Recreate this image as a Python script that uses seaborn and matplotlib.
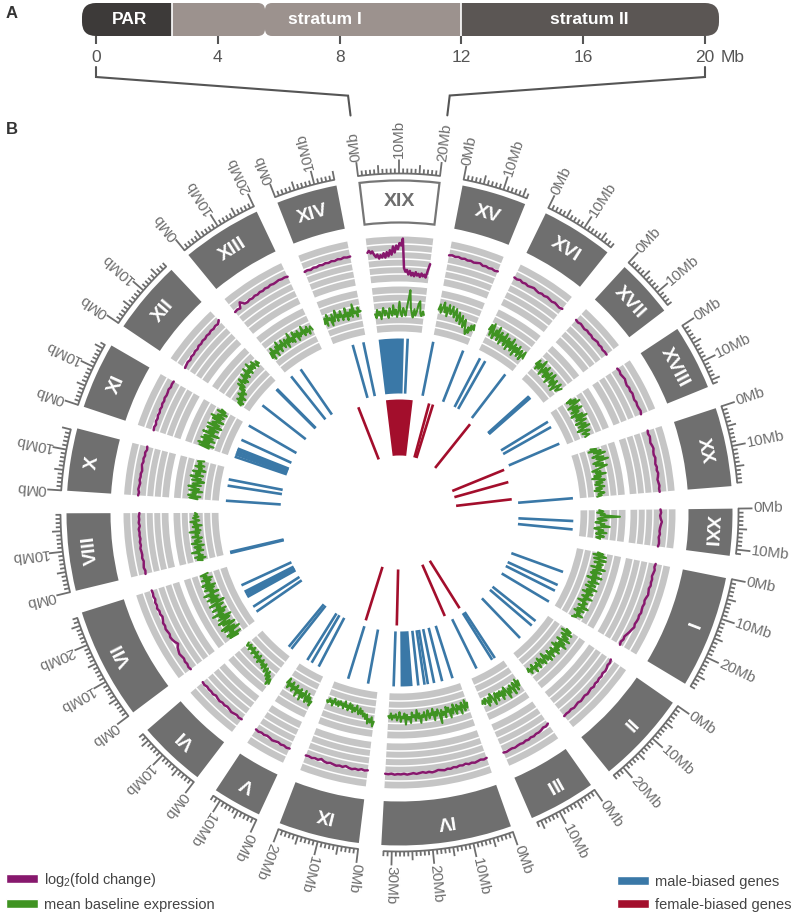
import numpy as np
import pandas as pd
import matplotlib
matplotlib.use("Agg")
import matplotlib.pyplot as plt
import seaborn as sns
from matplotlib.patches import FancyBboxPatch, Rectangle, Patch

# ---------------- data ----------------
chrom_names = ["XIX", "XV", "XVI", "XVII", "XVIII", "XX", "XXI", "I", "II", "III", "IV",
               "IX", "V", "VI", "VII", "VIII", "X", "XI", "XII", "XIII", "XIV"]
chrom_sizes = [20.24, 16.20, 18.12, 14.60, 16.28, 19.73, 11.72, 28.19, 23.30, 16.80, 32.63,
               20.25, 12.25, 17.08, 27.94, 19.37, 15.66, 16.69, 18.40, 20.08, 15.25]

# log2(fold change) along each chromosome (evenly spaced bins)
purple_values = {
    "XIX": [0.02, 0.08, -0.01, 0.05, -0.07, -0.15, -0.07, -0.21, -0.10, -0.18, -0.04, -0.19, -0.01, -0.15,
            0.05, -0.10, 0.17, -0.03, 0.20, 0.08, 0.28, 0.20, 0.43, -0.55, -0.67, -0.61, -0.76, -0.64,
            -0.79, -0.70, -0.81, -0.67, -0.78, -0.72, -0.82, -0.70, -0.79, -0.73, -0.82, -0.58, -0.36],
    "XV": [0.03, 0.05, 0.02, 0.04, 0.01, 0.03, 0.00, 0.02, -0.01, 0.01, 0.03, -0.02, 0.00, -0.03, -0.01, -0.04, -0.02],
    "XVI": [0.02, 0.00, 0.03, -0.01, 0.01, -0.02, 0.00, 0.02, -0.01, -0.03, 0.00, -0.02, 0.01, -0.01, -0.03, 0.00, -0.02, -0.04, -0.01],
    "XVII": [0.01, -0.01, 0.02, 0.00, -0.02, 0.01, -0.01, 0.00, -0.03, -0.01, 0.01, -0.02, 0.00, -0.03, -0.01, -0.02],
    "XVIII": [0.00, 0.02, -0.01, 0.01, 0.03, 0.00, -0.02, 0.01, -0.01, 0.02, 0.00, -0.02, 0.01, -0.01, 0.00, 0.02, -0.01],
    "XX": [0.01, -0.01, 0.02, 0.00, -0.02, 0.01, 0.03, 0.00, -0.01, 0.02, 0.00, -0.02, 0.01, -0.01, 0.02, 0.00, -0.03, -0.01, 0.01, -0.01, 0.00],
    "XXI": [0.00, 0.02, -0.01, 0.01, 0.05, 0.02, 0.00, -0.01, 0.01, -0.02, 0.00, 0.01, -0.01],
    "I": [0.01, -0.01, 0.02, 0.00, -0.02, 0.01, 0.00, 0.02, -0.01, 0.01, 0.03, 0.00, -0.02, 0.01, -0.01, 0.00,
          0.02, -0.01, 0.01, 0.00, -0.02, 0.01, -0.03, -0.06, -0.10, -0.14, -0.12, -0.16, -0.13],
    "II": [-0.12, -0.08, -0.10, -0.06, -0.04, -0.07, -0.03, -0.05, -0.02, -0.04, 0.00, -0.03, -0.01, 0.01, -0.02, 0.00,
           0.02, -0.01, 0.01, 0.03, 0.00, 0.02, 0.01, 0.03],
    "III": [-0.10, -0.06, -0.08, -0.04, -0.02, -0.03, 0.00, -0.02, 0.01, -0.01, 0.02, 0.00, 0.01, 0.03, 0.01, 0.02, 0.04, 0.02],
    "IV": [-0.02, 0.00, -0.03, -0.01, 0.01, -0.02, 0.00, -0.04, -0.01, -0.03, 0.00, -0.02, 0.01, -0.01, 0.02, 0.00, -0.02,
           0.01, 0.03, 0.00, 0.02, -0.01, 0.01, 0.03, 0.00, 0.02, 0.04, 0.01, 0.03, 0.02, 0.04, 0.01, 0.03, 0.02],
    "IX": [-0.04, -0.02, -0.05, -0.01, -0.03, 0.00, -0.02, -0.06, -0.01, -0.03, 0.00, -0.02, -0.04, -0.01, -0.03, -0.08,
           -0.02, -0.04, -0.01, -0.03, -0.02],
    "V": [-0.02, 0.00, -0.03, -0.01, -0.04, -0.02, 0.00, -0.03, -0.05, -0.02, -0.04, -0.01, -0.03],
    "VI": [-0.03, -0.01, -0.04, -0.02, 0.00, -0.03, -0.05, -0.02, -0.04, -0.01, -0.03, -0.06, -0.02, -0.04, -0.03, -0.05, -0.02, -0.04],
    "VII": [0.00, 0.02, -0.01, 0.01, -0.02, 0.00, 0.02, -0.01, -0.04, -0.12, -0.06, -0.02, 0.00, -0.03, -0.01, 0.01, -0.02,
            0.00, -0.04, -0.07, -0.03, -0.05, -0.01, -0.04, -0.02, -0.06, -0.03, -0.05, -0.04],
    "VIII": [0.01, -0.01, 0.02, 0.00, -0.02, 0.01, -0.01, 0.00, 0.02, -0.01, 0.01, -0.02, 0.00, -0.01, 0.01, -0.03, 0.00, -0.02, -0.01, -0.03],
    "X": [0.03, 0.01, 0.04, 0.02, 0.00, 0.03, 0.01, 0.02, -0.01, 0.01, 0.03, 0.00, 0.02, -0.01, 0.01, -0.03, -0.01],
    "XI": [-0.06, -0.04, -0.07, -0.03, -0.05, -0.02, -0.04, -0.01, -0.03, 0.00, -0.02, 0.01, -0.01, 0.00, 0.02, -0.01, 0.01, 0.00],
    "XII": [-0.08, -0.06, -0.04, -0.07, -0.03, -0.05, -0.02, -0.04, 0.00, -0.02, 0.01, -0.01, 0.02, 0.00, 0.03, 0.01, 0.04, 0.02, 0.10],
    "XIII": [-0.06, -0.04, -0.07, 0.10, -0.03, -0.05, -0.02, -0.04, -0.01, -0.03, 0.00, -0.02, 0.01, -0.01, 0.02, 0.00,
             0.01, 0.03, 0.01, 0.02, 0.00],
    "XIV": [-0.08, -0.06, -0.09, -0.05, -0.07, -0.04, -0.06, -0.03, -0.05, -0.02, -0.04, -0.01, -0.03, 0.00, -0.02, -0.01],
}

# mean baseline expression along each chromosome (evenly spaced bins)
green_values = {
    "XIX": [5.2, 4.6, 5.8, 5.0, 5.5, 4.4, 5.3, 6.0, 4.9, 5.6, 5.1, 4.5, 5.9, 5.2, 4.8, 6.3, 5.0, 5.7, 4.6, 5.4, 6.8,
            5.1, 4.7, 5.9, 5.3, 4.8, 6.1, 7.2, 8.5, 6.0, 5.2, 4.6, 5.8, 4.9, 5.5, 6.6, 7.0, 5.3, 4.9, 5.6, 5.1],
    "XV": [6.2, 7.0, 5.8, 6.6, 7.4, 6.0, 6.8, 5.5, 7.2, 6.4, 5.9, 7.1, 6.3, 5.6, 6.9, 6.0, 5.2, 6.5, 5.8, 4.9, 6.2,
           5.4, 4.6, 5.8, 5.0, 4.2, 3.8, 4.9, 4.1, 5.3, 4.6, 5.5, 4.8],
    "XVI": [5.8, 6.6, 5.1, 6.9, 5.5, 4.8, 6.2, 5.4, 6.8, 4.9, 5.7, 6.3, 4.6, 5.9, 5.2, 6.5, 4.7, 5.5, 6.1, 4.4, 5.8,
            5.0, 6.4, 4.6, 5.3, 5.9, 4.2, 5.6, 4.9, 6.0, 4.5, 5.2, 5.7, 4.3, 5.0, 5.8, 4.8],
    "XVII": [5.5, 6.3, 4.9, 6.0, 5.2, 6.8, 5.6, 4.7, 6.1, 5.3, 6.5, 4.8, 5.8, 5.1, 6.2, 4.5, 5.6, 6.4, 5.0, 5.7, 4.6,
             6.0, 5.2, 4.4, 5.5, 6.1, 4.9, 5.3, 5.8],
    "XVIII": [6.0, 5.2, 6.6, 5.5, 7.0, 5.8, 4.9, 6.3, 5.4, 6.8, 5.0, 6.1, 5.6, 4.7, 6.4, 5.3, 6.9, 5.1, 5.8, 6.5, 4.8,
              5.7, 6.2, 5.0, 6.6, 5.4, 4.6, 5.9, 6.3, 5.1, 5.6, 6.0, 5.3],
    "XX": [5.4, 6.2, 5.0, 6.8, 5.7, 7.3, 6.1, 5.3, 6.9, 5.8, 7.5, 6.0, 5.2, 6.6, 5.5, 7.1, 6.3, 5.6, 4.8, 6.0, 5.3,
           6.7, 5.0, 5.9, 4.6, 5.7, 6.4, 5.1, 6.0, 4.9, 5.6, 6.2, 5.0, 5.8, 4.7, 5.5, 6.1, 5.2, 5.7, 5.0],
    "XXI": [5.2, 5.8, 4.9, 6.0, 5.4, 8.2, 5.6, 5.0, 6.3, 5.3, 4.7, 6.0, 5.5, 6.8, 5.1, 4.6, 5.9, 5.2, 6.4, 4.9, 5.5,
            6.1, 5.0, 5.6],
    "I": [5.6, 6.4, 5.0, 6.9, 5.8, 5.2, 7.0, 6.1, 5.4, 6.7, 5.9, 6.5, 5.1, 7.2, 6.0, 5.5, 6.8, 5.3, 6.2, 5.7, 7.1,
          5.0, 6.3, 5.8, 6.9, 5.4, 6.0, 6.6, 5.2, 5.9, 7.0, 5.6, 6.4, 5.1, 6.7, 5.8, 6.2, 5.3, 6.9, 5.7, 6.1, 5.0,
          6.5, 5.9, 6.3, 5.4, 7.0, 6.0, 5.5, 6.6, 5.2, 6.2, 5.8, 6.8, 5.6, 6.0, 5.4],
    "II": [5.8, 6.6, 5.2, 7.0, 6.1, 5.5, 6.8, 5.9, 7.3, 6.2, 5.4, 6.9, 6.0, 7.4, 5.7, 6.5, 5.3, 6.8, 6.1, 7.1, 5.6,
           6.4, 5.9, 6.9, 5.5, 6.3, 7.0, 5.8, 6.6, 5.2, 6.1, 6.8, 5.7, 6.4, 5.3, 6.0, 6.7, 5.6, 6.2, 5.9, 6.8, 5.4,
           6.1, 5.8, 6.5, 5.5, 6.0],
    "III": [6.0, 6.8, 5.6, 7.2, 6.3, 5.8, 7.5, 6.5, 5.9, 7.0, 6.2, 7.6, 6.4, 5.7, 6.9, 6.1, 7.3, 5.9, 6.6, 6.0, 7.1,
            5.8, 6.5, 7.4, 6.2, 5.6, 6.8, 6.0, 7.2, 6.3, 5.9, 6.7, 6.1, 6.5],
    "IV": [5.5, 6.2, 5.0, 6.5, 5.8, 5.2, 6.8, 5.6, 6.1, 5.3, 6.6, 5.9, 5.1, 6.4, 5.7, 6.9, 5.4, 6.0, 5.2, 6.7, 5.8,
           6.3, 5.5, 7.4, 5.9, 5.3, 6.2, 5.6, 6.8, 5.1, 6.0, 5.7, 6.4, 5.2, 5.9, 6.6, 5.4, 6.1, 5.8, 6.9, 5.5, 6.2,
           5.0, 6.5, 5.7, 6.0, 5.3, 6.8, 5.9, 6.3, 5.6, 7.0, 5.4, 6.1, 5.8, 6.6, 5.2, 5.9, 6.4, 5.5, 6.0, 5.7, 6.3,
           5.4, 6.1, 5.8],
    "IX": [6.8, 7.5, 6.2, 7.0, 6.5, 7.2, 5.9, 6.6, 5.8, 6.3, 5.5, 6.0, 5.2, 6.1, 5.6, 4.9, 5.8, 5.3, 6.0, 5.0, 5.6,
           4.8, 5.9, 5.2, 5.5, 4.7, 5.8, 5.1, 5.4, 4.9, 5.7, 5.0, 5.6, 5.3, 4.8, 5.9, 5.2, 5.5, 5.0, 5.7, 5.4],
    "V": [6.5, 7.2, 6.0, 6.8, 5.6, 7.0, 6.2, 5.4, 6.6, 5.9, 7.1, 5.5, 6.3, 5.8, 6.9, 5.3, 6.1, 5.7, 6.5, 5.2, 6.0,
          5.6, 6.4, 5.0, 5.8],
    "VI": [7.5, 6.8, 7.8, 6.5, 7.2, 6.0, 6.9, 6.3, 5.8, 6.6, 6.0, 5.5, 6.4, 5.7, 6.1, 5.3, 5.9, 5.6, 6.2, 5.1, 5.8,
           5.4, 6.0, 5.0, 5.6, 5.3, 5.9, 4.9, 5.5, 5.2, 5.8, 5.0, 5.4, 5.6, 5.1],
    "VII": [5.5, 6.8, 4.9, 7.0, 5.8, 6.3, 4.6, 6.9, 5.2, 7.2, 5.9, 4.8, 6.6, 5.4, 7.1, 6.0, 5.1, 6.8, 4.7, 6.4, 5.7,
            7.3, 5.3, 6.2, 4.9, 6.9, 5.6, 6.1, 5.0, 7.0, 5.8, 4.6, 6.5, 5.4, 6.9, 5.1, 6.3, 5.7, 7.1, 4.8, 6.0, 5.5,
            6.7, 5.2, 6.4, 4.9, 6.8, 5.6, 6.1, 5.3, 6.6, 5.0, 6.2, 5.7, 6.5, 5.4],
    "VIII": [5.6, 6.3, 5.1, 6.6, 5.4, 6.0, 5.8, 6.9, 5.2, 6.1, 5.5, 6.4, 5.0, 5.9, 6.7, 5.3, 6.2, 5.7, 5.1, 6.5, 5.6,
             6.0, 5.4, 6.8, 5.2, 5.9, 5.5, 6.3, 5.0, 6.1, 5.7, 6.6, 5.3, 5.8, 6.2, 5.4, 6.0, 5.6, 5.9],
    "X": [5.6, 6.8, 5.2, 7.0, 5.9, 6.4, 5.0, 6.9, 5.5, 6.2, 7.1, 5.3, 6.5, 5.8, 4.9, 6.7, 5.4, 6.1, 7.0, 5.2, 6.3,
          5.7, 6.8, 5.0, 6.0, 5.6, 6.6, 5.3, 6.2, 5.8, 6.4, 5.5],
    "XI": [5.4, 6.9, 4.8, 7.2, 5.6, 6.5, 4.9, 7.0, 5.3, 6.7, 5.8, 4.6, 7.1, 5.5, 6.3, 5.0, 6.8, 5.7, 4.7, 6.9, 5.2,
           6.4, 5.9, 4.8, 6.6, 5.4, 7.0, 5.1, 6.2, 5.6, 4.9, 6.5, 5.3, 6.0],
    "XII": [4.0, 4.6, 3.8, 5.0, 4.2, 4.8, 3.9, 5.3, 4.5, 5.0, 4.3, 5.6, 4.8, 6.2, 5.1, 5.8, 6.5, 5.4, 6.0, 5.2, 6.7,
            5.7, 6.3, 5.5, 7.0, 5.9, 6.4, 5.6, 7.2, 6.0, 6.6, 5.8, 6.9, 6.2, 5.7, 6.5, 6.0],
    "XIII": [5.2, 6.0, 4.8, 6.5, 5.5, 5.9, 4.9, 6.3, 5.6, 6.8, 5.1, 6.1, 5.7, 6.6, 5.3, 5.9, 6.4, 5.0, 6.2, 5.6, 6.9,
             5.4, 6.0, 5.2, 6.7, 5.8, 6.3, 5.1, 6.5, 5.5, 6.0, 5.7, 6.8, 5.3, 6.1, 5.6, 6.4, 5.2, 5.9, 6.2, 5.6],
    "XIV": [5.6, 6.4, 5.2, 6.8, 5.9, 6.2, 5.0, 6.6, 5.5, 6.1, 7.0, 5.4, 6.3, 5.8, 6.7, 5.3, 6.0, 5.7, 6.9, 5.1, 6.2,
            5.6, 6.5, 5.4, 7.2, 5.8, 6.1, 5.3, 6.6, 5.9, 6.0],
}

# sex-biased gene positions (Mb)
blue_genes = {
    "XIV": [8.5, 13.7], "XIX": [14.0], "XV": [0.4, 15.2], "XVI": [2.2, 5.0, 16.4],
    "XVII": [8.0, 8.5, 9.0], "XVIII": [2.9, 5.8, 14.6], "XX": [19.5], "XXI": [5.0, 9.0],
    "I": [12.4, 19.1, 22.1, 28.0], "II": [5.4, 8.2, 16.3], "III": [2.7, 4.2, 12.7],
    "IV": [2.6, 7.7, 11.6, 14.6, 16.2, 19.2, 30.9], "IX": [4.9, 14.6], "V": [3.9, 7.7, 10.1],
    "VI": [1.5, 3.1], "VII": [3.1, 5.9, 11.3, 12.2, 13.2, 14.1, 17.5], "VIII": [0.2, 0.7],
    "X": [0.2, 7.4, 10.4], "XI": [0.3, 1.5, 2.5, 3.5, 4.4, 8.9, 16.5], "XII": [5.8, 15.8, 16.2],
    "XIII": [1.2, 6.8],
}
blue_blocks = [("XIX", 0.2, 12.2), ("IV", 21.9, 27.6)]
red_genes = {
    "XIV": [0.2], "XV": [6.2, 9.1], "XVI": [18.1], "XVIII": [16.2], "XX": [3.8, 16.6],
    "III": [4.3, 16.5], "IV": [30.1], "IX": [14.9],
}
red_blocks = [("XIX", 0.2, 19.8)]

# panel A: chromosome XIX strata
strata_names = ["PAR", "stratum I", "stratum II"]
strata_start = [0.0, 2.5, 12.0]
strata_end = [2.5, 12.0, 20.0]
strata_label_pos = [1.1, 7.5, 16.2]
centromere_mb = 5.55
axis_ticks_mb = [0, 4, 8, 12, 16, 20]

# ---------------- style ----------------
sns.set_theme(style="white")
plt.rcParams['font.family'] = ['Liberation Sans', 'DejaVu Sans']
plt.rcParams['mathtext.default'] = 'regular'

P_COLOR = "#87186d"
G_COLOR = "#3f9322"
B_COLOR = "#3a78a7"
R_COLOR = "#a30e2c"
TRACK = "#c5c5c5"
BAND = "#6f6f6f"
TICKC = "#6e6e6e"
STRATA_COLORS = ["#3d3a39", "#9c928e", "#5b5654"]

W, H = 800, 916
fig = plt.figure(figsize=(W / 100, H / 100), dpi=100)
fig.patch.set_facecolor("white")

CX, CY, RMAX = 399.5, 512.5, 400.0
ax = fig.add_axes([(CX - RMAX) / W, (H - CY - RMAX) / H, 2 * RMAX / W, 2 * RMAX / H], projection='polar')
ax.set_theta_zero_location('N')
ax.set_theta_direction(-1)
ax.set_xlim(0, 2 * np.pi)
ax.set_ylim(0, RMAX)
ax.axis('off')

R_RED = (57, 113)
R_BLUE = (119, 174)
R_GREEN = (181, 226)
R_PURPLE = (231, 276)
R_BAND = (289, 333)
R_TICK = 339
P_MIN, P_MAX = -1.0, 0.5
G_MIN, G_MAX = 2.5, 9.0

K = 0.695  # degrees per Mb
GAP = (360 - sum(chrom_sizes) * K) / len(chrom_sizes)
starts = {}
a = -chrom_sizes[0] * K / 2
for n, s in zip(chrom_names, chrom_sizes):
    starts[n] = a
    a += s * K + GAP


def ang(n, pos):
    return starts[n] + np.asarray(pos, dtype=float) * K


def th(n, pos):
    return np.deg2rad(ang(n, pos))


for n, s in zip(chrom_names, chrom_sizes):
    t0, t1 = float(th(n, 0)), float(th(n, s))
    c, w = (t0 + t1) / 2, t1 - t0
    # ideogram band
    if n == "XIX":
        ax.bar(c, R_BAND[1] - R_BAND[0] - 2, width=w - 0.004, bottom=R_BAND[0] + 1, color='white',
               edgecolor='#767676', linewidth=1.6)
        lc = '#6e6e6e'
    else:
        ax.bar(c, R_BAND[1] - R_BAND[0], width=w, bottom=R_BAND[0], color=BAND, linewidth=0)
        lc = 'white'
    ax.text(c, (R_BAND[0] + R_BAND[1]) / 2, n, rotation=-np.rad2deg(c), rotation_mode='anchor',
            ha='center', va='center', fontsize=14, fontweight='bold', color=lc)
    # track backgrounds
    tt = np.linspace(t0, t1, 80)
    for (r0, r1) in (R_PURPLE, R_GREEN):
        ax.bar(c, r1 - r0, width=w, bottom=r0, color=TRACK, linewidth=0)
        for i in range(1, 6):
            ax.plot(tt, np.full_like(tt, r0 + (r1 - r0) * i / 6), color='white', lw=1.1)
    # scale ticks
    mb = np.arange(0, int(np.floor(s)) + 1)
    lens = np.where(mb % 10 == 0, 14, np.where(mb % 5 == 0, 9, 5))
    ax.vlines(th(n, mb), R_TICK, R_TICK + lens, colors=TICKC, lw=1.3)
    tb = np.linspace(t0, float(th(n, mb[-1])), 60)
    ax.plot(tb, np.full_like(tb, R_TICK), color=TICKC, lw=1.3)
    for m in mb[mb % 10 == 0]:
        d = float(ang(n, m))
        ax.text(np.deg2rad(d), R_TICK + 15, f"{m}Mb", rotation=90 - d, rotation_mode='anchor',
                ha='left', va='center', fontsize=11, color=TICKC)

# traces (seaborn)
rows = []
for n, s in zip(chrom_names, chrom_sizes):
    pv = purple_values[n]
    for p, v in zip(np.linspace(0, s, len(pv)), pv):
        rows.append((n, float(th(n, p)), R_PURPLE[0] + (R_PURPLE[1] - R_PURPLE[0]) * (v - P_MIN) / (P_MAX - P_MIN), "fc"))
    gv = green_values[n]
    for p, v in zip(np.linspace(0, s, len(gv)), gv):
        rows.append((n, float(th(n, p)), R_GREEN[0] + (R_GREEN[1] - R_GREEN[0]) * (v - G_MIN) / (G_MAX - G_MIN), "expr"))
df = pd.DataFrame(rows, columns=["chrom", "theta", "r", "track"])
sns.lineplot(data=df[df.track == "fc"], x="theta", y="r", units="chrom", estimator=None,
             color=P_COLOR, lw=1.8, ax=ax)
sns.lineplot(data=df[df.track == "expr"], x="theta", y="r", units="chrom", estimator=None,
             color=G_COLOR, lw=1.5, ax=ax)

# sex-biased genes
for genes, blocks, (r0, r1), col in ((blue_genes, blue_blocks, R_BLUE, B_COLOR),
                                     (red_genes, red_blocks, R_RED, R_COLOR)):
    for n, plist in genes.items():
        ax.vlines(th(n, plist), r0, r1, colors=col, lw=1.9)
    for n, p0, p1 in blocks:
        t0, t1 = float(th(n, p0)), float(th(n, p1))
        ax.bar((t0 + t1) / 2, r1 - r0, width=t1 - t0, bottom=r0, color=col, linewidth=0)

ax.set_xlabel("")
ax.set_ylabel("")
ax.set_xlim(0, 2 * np.pi)
ax.set_ylim(0, RMAX)
ax.axis('off')

# ---------------- panel A ----------------
PX_PER_MB = 30.45
X0_PX = 96
axA = fig.add_axes([0, 0, 1, 1], zorder=3)
axA.set_xlim(-X0_PX / PX_PER_MB, (W - X0_PX) / PX_PER_MB)
axA.set_ylim(H, 0)
axA.axis('off')

BAR_Y0, BAR_Y1 = 3, 36
PAD = 0.46
bh = BAR_Y1 - BAR_Y0


def rbox(x0, x1, rad_px, col, z):
    rs = rad_px / PX_PER_MB
    p = FancyBboxPatch((x0, BAR_Y0), x1 - x0, bh, boxstyle=f"round,pad=0,rounding_size={rs}",
                       mutation_aspect=PX_PER_MB, facecolor=col, edgecolor='none', zorder=z)
    axA.add_patch(p)


# stratum I with centromere constriction
rbox(strata_start[1] - 0.5, centromere_mb, 7, STRATA_COLORS[1], 1)
rbox(centromere_mb, strata_end[1] + 0.5, 7, STRATA_COLORS[1], 1)
# PAR
rbox(strata_start[0] - PAD, strata_start[0] + 1.5, 14, STRATA_COLORS[0], 2)
axA.add_patch(Rectangle((strata_start[0] + 0.5, BAR_Y0), strata_end[0] - strata_start[0] - 0.5, bh,
                        facecolor=STRATA_COLORS[0], edgecolor='none', zorder=2))
# stratum II
rbox(strata_end[2] - 7, strata_end[2] + PAD, 14, STRATA_COLORS[2], 2)
axA.add_patch(Rectangle((strata_start[2], BAR_Y0), 2.0, bh, facecolor=STRATA_COLORS[2], edgecolor='none', zorder=2))
axA.vlines([strata_end[0], strata_end[1]], BAR_Y0, BAR_Y1, colors='white', lw=1.2, zorder=3)
for name, xp in zip(strata_names, strata_label_pos):
    axA.text(xp, (BAR_Y0 + BAR_Y1) / 2, name, ha='center', va='center', color='white',
             fontsize=12.5, fontweight='bold', zorder=4)

axA.vlines(axis_ticks_mb, BAR_Y1, BAR_Y1 + 8, colors='#555555', lw=1.5)
for t in axis_ticks_mb:
    axA.text(t, 58, f"{t}", ha='center', va='center', fontsize=12.5, color='#555555')
axA.text(axis_ticks_mb[-1] + 0.5, 58, "Mb", ha='left', va='center', fontsize=12.5, color='#555555')

# connectors from panel A to chromosome XIX scale
fig.canvas.draw()
inv = axA.transData.inverted()
for mbpos in (0, 20):
    p_far = inv.transform(ax.transData.transform((float(th("XIX", mbpos)), 420)))
    p_near = inv.transform(ax.transData.transform((float(th("XIX", mbpos)), 400)))
    xs = [mbpos, mbpos, p_far[0], p_near[0]]
    ys = [67, 77, p_far[1], p_near[1]]
    axA.plot(xs, ys, color='#555555', lw=1.5, solid_joinstyle='miter')

# panel letters
fig.text(12 / W, 1 - 14 / H, "A", fontsize=12, fontweight='bold', color='#333333', ha='center', va='center')
fig.text(12 / W, 1 - 130 / H, "B", fontsize=12, fontweight='bold', color='#333333', ha='center', va='center')

# legends
h1 = [Patch(facecolor=P_COLOR, label=r"log$_2$(fold change)"),
      Patch(facecolor=G_COLOR, label="mean baseline expression")]
h2 = [Patch(facecolor=B_COLOR, label="male-biased genes"),
      Patch(facecolor=R_COLOR, label="female-biased genes")]
for hh, xa in ((h1, 6 / W), (h2, 617 / W)):
    lg = fig.legend(handles=hh, loc='lower left', bbox_to_anchor=(xa, 4 / H), frameon=False,
                    handlelength=2.2, handleheight=0.55, fontsize=10.5, labelspacing=0.65,
                    handletextpad=0.4, borderaxespad=0, borderpad=0)
    for tx in lg.get_texts():
        tx.set_color('#444444')

fig.savefig("out.png", dpi=100)
